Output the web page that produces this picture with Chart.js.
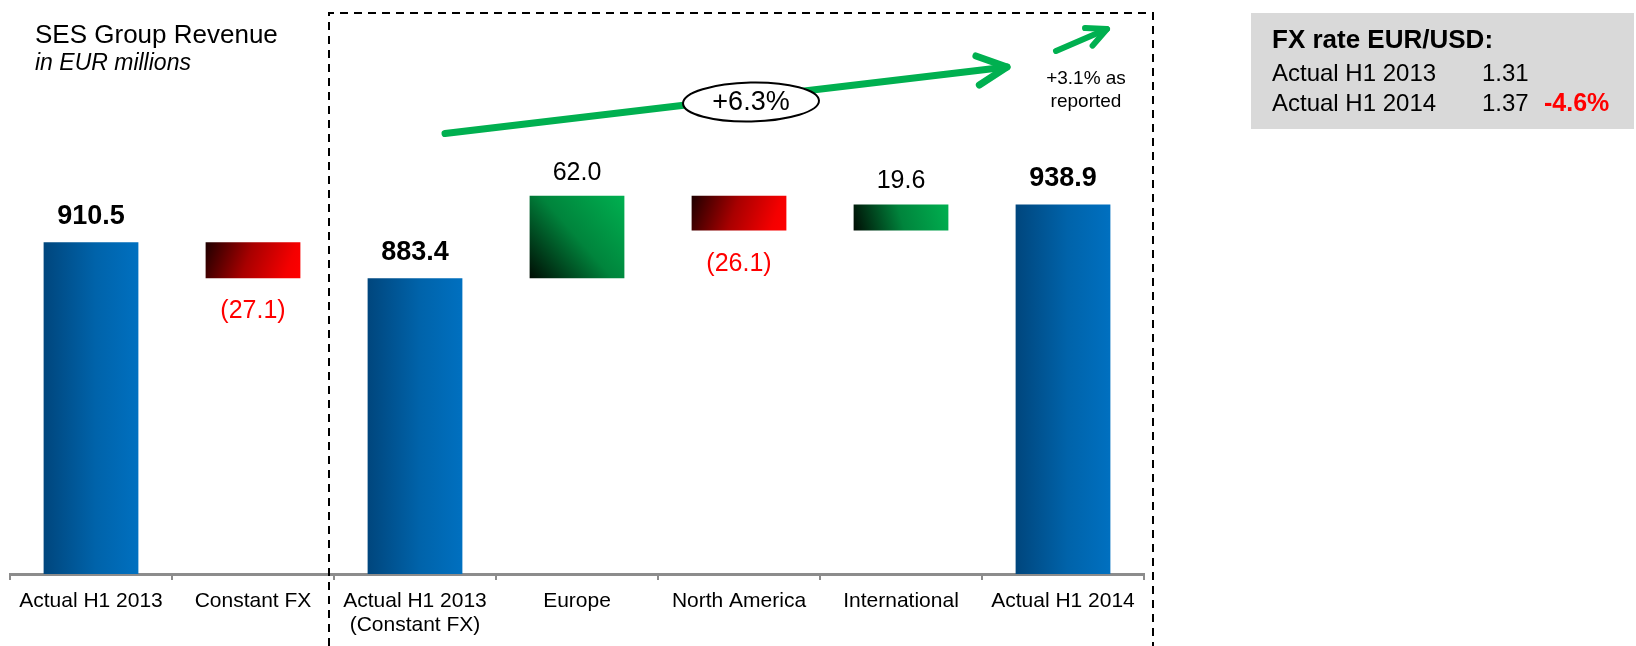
<!DOCTYPE html>
<html>
<head>
<meta charset="utf-8">
<script src="https://cdn.jsdelivr.net/npm/chart.js@4.4.1/dist/chart.umd.min.js"></script>
<style>
  html, body { margin: 0; padding: 0; background: #fff; }
  #wrap { position: relative; width: 1636px; height: 646px; }
</style>
</head>
<body>
<div id="wrap"><canvas id="revenue" width="1636" height="646"></canvas></div>
<script>
const categories = ['Actual H1 2013', 'Constant FX', ['Actual H1 2013', '(Constant FX)'], 'Europe', 'North America', 'International', 'Actual H1 2014'];
const values = [910.5, -27.1, 883.4, 62.0, -26.1, 19.6, 938.9];
const isTotal = [true, false, true, false, false, false, true];

const fxLabels = ['Actual H1 2013', 'Actual H1 2014'];
const fxRates = ['1.31', '1.37'];
const fxChange = '-4.6%';

const axisMin = 661.5;
const axisMax = 1000;
const barPct = 0.585;
const FONT = "'Liberation Sans', Arial, sans-serif";
Chart.defaults.font.family = FONT;

// waterfall ranges: totals start at the axis, deltas float on the running total
let running = 0;
const ranges = values.map((v, i) => {
  if (isTotal[i]) { running = v; return [axisMin, v]; }
  const r = [Math.min(running, running + v), Math.max(running, running + v)];
  running += v;
  return r;
});

function barFill(c) {
  const chart = c.chart;
  if (!chart.chartArea) return '#0070c0';
  const xs = chart.scales.x, ys = chart.scales.y;
  const i = c.dataIndex;
  const step = xs.getPixelForValue(1) - xs.getPixelForValue(0);
  const cx = xs.getPixelForValue(i);
  const x0 = cx - step * barPct / 2, x1 = cx + step * barPct / 2;
  const r = ranges[i];
  const yTop = ys.getPixelForValue(r[1]), yBot = ys.getPixelForValue(r[0]);
  const ctx = chart.ctx;
  let g;
  if (isTotal[i]) {
    g = ctx.createLinearGradient(x0, 0, x1, 0);
    g.addColorStop(0, '#00467d');
    g.addColorStop(0.55, '#0063aa');
    g.addColorStop(1, '#0070c0');
  } else if (values[i] < 0) {
    g = ctx.createLinearGradient(x0, yTop, x1, yBot);
    g.addColorStop(0, '#1e0000');
    g.addColorStop(0.45, '#a80000');
    g.addColorStop(0.85, '#f40000');
    g.addColorStop(1, '#ff0000');
  } else {
    g = ctx.createLinearGradient(x0, yBot, x1, yTop);
    g.addColorStop(0, '#000d04');
    g.addColorStop(0.5, '#00843c');
    g.addColorStop(1, '#00b050');
  }
  return g;
}

const valueLabels = {
  id: 'valueLabels',
  afterDatasetsDraw(chart) {
    const ctx = chart.ctx;
    const meta = chart.getDatasetMeta(0);
    ctx.save();
    ctx.textAlign = 'center';
    ctx.textBaseline = 'alphabetic';
    meta.data.forEach((el, i) => {
      const v = values[i];
      if (isTotal[i]) {
        ctx.font = 'bold 27px ' + FONT;
        ctx.fillStyle = '#000';
        ctx.fillText(v.toFixed(1), el.x, el.y - 18);
      } else if (v >= 0) {
        ctx.font = '25px ' + FONT;
        ctx.fillStyle = '#000';
        ctx.fillText(v.toFixed(1), el.x, el.y - 16);
      } else {
        ctx.font = '25px ' + FONT;
        ctx.fillStyle = '#ff0000';
        ctx.fillText('(' + Math.abs(v).toFixed(1) + ')', el.x, el.base + 40);
      }
    });
    ctx.restore();
  }
};

function arrow(ctx, x0, y0, x1, y1, width, headLen, headAng) {
  const a = Math.atan2(y1 - y0, x1 - x0);
  ctx.lineWidth = width;
  ctx.beginPath();
  ctx.moveTo(x0, y0);
  ctx.lineTo(x1, y1);
  ctx.stroke();
  ctx.beginPath();
  ctx.moveTo(x1 - headLen * Math.cos(a - headAng), y1 - headLen * Math.sin(a - headAng));
  ctx.lineTo(x1, y1);
  ctx.lineTo(x1 - headLen * Math.cos(a + headAng), y1 - headLen * Math.sin(a + headAng));
  ctx.stroke();
}

const annotations = {
  id: 'annotations',
  afterDraw(chart) {
    const ctx = chart.ctx;
    ctx.save();

    // title
    ctx.fillStyle = '#000';
    ctx.textAlign = 'left';
    ctx.textBaseline = 'alphabetic';
    ctx.font = '26px ' + FONT;
    ctx.fillText('SES Group Revenue', 35, 43);
    ctx.font = 'italic 23px ' + FONT;
    ctx.fillText('in EUR millions', 35, 70);

    // dashed frame around the constant FX part
    ctx.strokeStyle = '#000';
    ctx.lineWidth = 2;
    ctx.setLineDash([8, 6]);
    ctx.beginPath();
    ctx.moveTo(329, 646);
    ctx.lineTo(329, 13);
    ctx.lineTo(1153, 13);
    ctx.lineTo(1153, 646);
    ctx.stroke();
    ctx.setLineDash([]);

    // growth arrows
    ctx.strokeStyle = '#00b050';
    ctx.lineCap = 'round';
    ctx.lineJoin = 'round';
    arrow(ctx, 445, 133.5, 1007, 67, 7, 33, 0.46);
    arrow(ctx, 1056, 51, 1107, 29, 6, 22, 0.45);

    // ellipse with +6.3%
    ctx.beginPath();
    ctx.ellipse(751, 102, 68, 19.5, -0.02, 0, Math.PI * 2);
    ctx.fillStyle = '#fff';
    ctx.fill();
    ctx.lineWidth = 2;
    ctx.strokeStyle = '#000';
    ctx.stroke();
    ctx.fillStyle = '#000';
    ctx.textAlign = 'center';
    ctx.textBaseline = 'middle';
    ctx.font = '27px ' + FONT;
    ctx.fillText('+6.3%', 751, 103);

    ctx.textBaseline = 'alphabetic';
    ctx.font = '19px ' + FONT;
    ctx.fillText('+3.1% as', 1086, 84);
    ctx.fillText('reported', 1086, 107);

    // FX box
    ctx.fillStyle = '#d9d9d9';
    ctx.fillRect(1251, 13, 383, 116);
    ctx.textAlign = 'left';
    ctx.fillStyle = '#000';
    ctx.font = 'bold 26px ' + FONT;
    ctx.fillText('FX rate EUR/USD:', 1272, 48);
    ctx.font = '24px ' + FONT;
    fxLabels.forEach((l, i) => {
      const y = 81 + i * 30;
      ctx.fillText(l, 1272, y);
      ctx.fillText(fxRates[i], 1482, y);
    });
    ctx.font = 'bold 25px ' + FONT;
    ctx.fillStyle = '#ff0000';
    ctx.fillText(fxChange, 1544, 111);

    ctx.restore();
  }
};

new Chart(document.getElementById('revenue'), {
  type: 'bar',
  data: {
    labels: categories,
    datasets: [{
      data: ranges,
      backgroundColor: barFill,
      borderWidth: 0,
      categoryPercentage: 1,
      barPercentage: barPct
    }]
  },
  options: {
    responsive: false,
    animation: false,
    devicePixelRatio: 1,
    layout: { padding: { left: 10, right: 492, top: 123, bottom: 0 } },
    plugins: { legend: { display: false }, tooltip: { enabled: false } },
    scales: {
      x: {
        afterFit(scale) { scale.height = 72; },
        grid: {
          offset: true,
          drawOnChartArea: false,
          drawTicks: true,
          tickLength: 6,
          color: '#8c8c8c',
          lineWidth: 2
        },
        border: { display: true, color: '#8c8c8c', width: 3 },
        ticks: {
          color: '#000',
          font: { size: 21, lineHeight: 1.15 },
          padding: 9,
          maxRotation: 0,
          autoSkip: false
        }
      },
      y: {
        display: false,
        min: axisMin,
        max: axisMax
      }
    }
  },
  plugins: [valueLabels, annotations]
});
</script>
</body>
</html>
